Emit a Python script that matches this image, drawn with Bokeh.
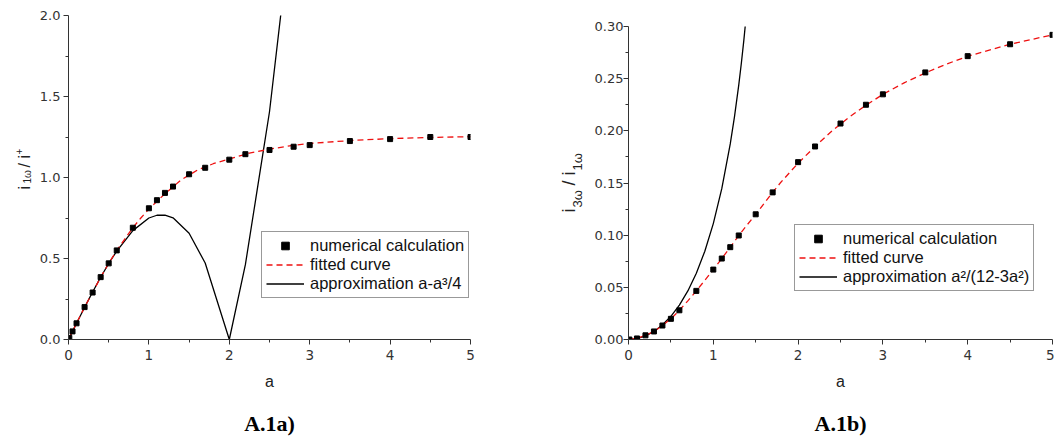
from bokeh.plotting import figure
from bokeh.layouts import row
from bokeh.models import (Range1d, FixedTicker, NumeralTickFormatter, Legend,
                          LegendItem, Label, Title)
from bokeh.embed import file_html
from bokeh.resources import INLINE

# ---------------- data: panel A.1a ----------------
a_num_1 = [0.01, 0.05, 0.1, 0.2, 0.3, 0.4, 0.5, 0.6, 0.8, 1.0, 1.1, 1.2, 1.3,
           1.5, 1.7, 2.0, 2.2, 2.5, 2.8, 3.0, 3.5, 4.0, 4.5, 5.0]
i1_num = [0.01, 0.05, 0.10, 0.20, 0.29, 0.385, 0.47, 0.55, 0.69, 0.81, 0.86,
          0.905, 0.944, 1.02, 1.06, 1.11, 1.144, 1.17, 1.19, 1.20, 1.225,
          1.237, 1.25, 1.25]
a_fit_1 = [0, 0.1, 0.2, 0.3, 0.4, 0.5, 0.6, 0.7, 0.8, 0.9, 1.0, 1.2, 1.4, 1.6,
           1.8, 2.0, 2.25, 2.5, 2.75, 3.0, 3.5, 4.0, 4.5, 5.0]
i1_fit = [0, 0.10, 0.20, 0.29, 0.385, 0.47, 0.55, 0.62, 0.69, 0.75, 0.805,
          0.90, 0.985, 1.045, 1.085, 1.115, 1.15, 1.175, 1.195, 1.21, 1.228,
          1.24, 1.247, 1.252]
a_apx_1 = [0, 0.05, 0.1, 0.2, 0.3, 0.4, 0.5, 0.6, 0.8, 1.0, 1.1, 1.2, 1.3, 1.5,
           1.7, 2.0, 2.2, 2.5, 2.8]
i1_apx = [0, 0.05, 0.10, 0.198, 0.293, 0.384, 0.469, 0.546, 0.672, 0.75, 0.767,
          0.768, 0.751, 0.656, 0.472, 0.0, 0.462, 1.406, 2.688]
y_ticks_1 = [0.0, 0.5, 1.0, 1.5, 2.0]

# ---------------- data: panel A.1b ----------------
a_num_2 = [0.01, 0.1, 0.2, 0.3, 0.4, 0.5, 0.6, 0.8, 1.0, 1.1, 1.2, 1.3, 1.5,
           1.7, 2.0, 2.2, 2.5, 2.8, 3.0, 3.5, 4.0, 4.5, 5.0]
i3_num = [0.0, 0.001, 0.004, 0.0077, 0.0134, 0.0198, 0.028, 0.0466, 0.067,
          0.0776, 0.0885, 0.0997, 0.120, 0.141, 0.170, 0.185, 0.207, 0.225,
          0.235, 0.256, 0.2716, 0.283, 0.292]
a_fit_2 = [0, 0.1, 0.2, 0.3, 0.4, 0.5, 0.6, 0.7, 0.8, 0.9, 1.0, 1.1, 1.2, 1.3,
           1.4, 1.5, 1.6, 1.7, 1.8, 2.0, 2.2, 2.4, 2.6, 2.8, 3.0, 3.25, 3.5,
           3.75, 4.0, 4.5, 5.0]
i3_fit = [0, 0.001, 0.004, 0.0077, 0.0134, 0.0198, 0.028, 0.037, 0.0466,
          0.0567, 0.067, 0.0776, 0.0885, 0.0997, 0.110, 0.120, 0.1305, 0.141,
          0.151, 0.169, 0.185, 0.200, 0.213, 0.2245, 0.235, 0.246, 0.2555,
          0.264, 0.2715, 0.283, 0.292]
a_apx_2 = [0, 0.1, 0.2, 0.3, 0.4, 0.5, 0.6, 0.7, 0.8, 0.9, 1.0, 1.1, 1.2, 1.25,
           1.3, 1.33, 1.36, 1.376]
i3_apx = [0, 0.00084, 0.00337, 0.00767, 0.01389, 0.02222, 0.03297, 0.04653,
          0.06349, 0.08464, 0.1111, 0.14456, 0.1875, 0.21368, 0.24387, 0.26428,
          0.2867, 0.300]
y_ticks_2 = [0.0, 0.05, 0.10, 0.15, 0.20, 0.25, 0.30]

x_ticks = [0, 1, 2, 3, 4, 5]
legend_labels_1 = ["numerical calculation", "fitted curve", "approximation a-a\u00b3/4"]
legend_labels_2 = ["numerical calculation", "fitted curve", "approximation a\u00b2/(12-3a\u00b2)"]
captions = ["A.1a)", "A.1b)"]
ylabel_1 = [("i", "main"), ("1\u03c9", "sub"), ("/", "main"), ("i", "main"), ("+", "sup")]
ylabel_2 = [("i", "main"), ("3\u03c9", "sub"), ("/", "main"), ("i", "main"), ("1\u03c9", "sub")]

SANS = "Liberation Sans"
TICKF = "DejaVu Sans"
SERIF = "Liberation Serif"
AX = "#333333"

TOP = 15          # frame top (page px)
FH = 324          # frame height
BOT = 100         # bottom border


def mids(t):
    return [(t[i] + t[i + 1]) / 2 for i in range(len(t) - 1)]


def make_fig(frame_w, bl, br, y_end, y_ticks, y_fmt, y_standoff, caption, cap_off):
    p = figure(frame_width=frame_w, frame_height=FH,
               min_border_left=bl, min_border_right=br,
               min_border_top=TOP, min_border_bottom=BOT,
               x_range=Range1d(0, 5), y_range=Range1d(0, y_end),
               output_backend="svg", toolbar_location=None)
    p.outline_line_color = None
    p.xgrid.visible = False
    p.ygrid.visible = False
    p.background_fill_color = "white"
    p.border_fill_color = "white"
    p.xaxis.ticker = FixedTicker(ticks=x_ticks, minor_ticks=mids(x_ticks))
    p.yaxis.ticker = FixedTicker(ticks=y_ticks, minor_ticks=mids(y_ticks))
    p.yaxis.formatter = NumeralTickFormatter(format=y_fmt)
    p.yaxis.bounds = (y_ticks[0], y_ticks[-1])
    for ax in (p.xaxis, p.yaxis):
        ax.axis_line_color = AX
        ax.axis_line_width = 1
        ax.major_tick_line_color = AX
        ax.minor_tick_line_color = AX
        ax.major_tick_out = 5
        ax.major_tick_in = 0
        ax.minor_tick_out = 3
        ax.minor_tick_in = 0
        ax.major_label_text_font = TICKF
        ax.major_label_text_color = AX
    p.yaxis.major_label_text_font_size = "13px"
    p.xaxis.major_label_text_font_size = "13.5px"
    p.yaxis.major_label_standoff = y_standoff
    p.xaxis.major_label_standoff = 5
    p.xaxis.axis_label = "a"
    p.xaxis.axis_label_text_font = SANS
    p.xaxis.axis_label_text_font_size = "16px"
    p.xaxis.axis_label_text_font_style = "normal"
    p.xaxis.axis_label_text_color = "#222222"
    p.xaxis.axis_label_standoff = 10
    p.add_layout(Title(text=caption, align="center", offset=cap_off,
                       text_font=SERIF, text_font_size="22px",
                       text_font_style="bold", text_color="black",
                       standoff=32), "below")
    return p


def add_series(p, a_num, y_num, a_fit, y_fit, a_apx, y_apx, labels, loc):
    r_apx = p.line(a_apx, y_apx, line_color="black", line_width=1.3)
    r_fit = p.line(a_fit, y_fit, line_color="#ee1111", line_width=1.3,
                   line_dash="6 4")
    r_num = p.scatter(a_num, y_num, marker="square", size=5, color="black")
    leg = Legend(items=[LegendItem(label=labels[0], renderers=[r_num]),
                        LegendItem(label=labels[1], renderers=[r_fit]),
                        LegendItem(label=labels[2], renderers=[r_apx])],
                 location=loc, margin=0, padding=4, spacing=0,
                 glyph_width=38, glyph_height=19, label_height=19,
                 label_standoff=6, label_text_font=SANS,
                 label_text_font_size="16.5px", label_text_color="#111111",
                 border_line_color="#333333", border_line_width=1,
                 background_fill_color="white", background_fill_alpha=1)
    p.add_layout(leg, "center")


def label_fig(width, pieces, starts, sizes, xs):
    # narrow strip carrying the rotated y-axis title (with sub/superscripts)
    q = figure(frame_width=width, frame_height=FH, min_border_left=0,
               min_border_right=0, min_border_top=TOP, min_border_bottom=BOT,
               x_axis_location=None, y_axis_location=None,
               x_range=Range1d(0, 1), y_range=Range1d(0, 1),
               output_backend="svg", toolbar_location=None)
    q.outline_line_color = None
    q.xgrid.visible = False
    q.ygrid.visible = False
    q.background_fill_color = "white"
    q.border_fill_color = "white"
    for (txt, kind), y in zip(pieces, starts):
        q.add_layout(Label(x=xs[kind], y=y, x_units="screen", y_units="screen",
                           text=txt, angle=1.5707963, text_font=SANS,
                           text_font_size=f"{sizes[kind]}px",
                           text_color="#222222", text_align="left",
                           text_baseline="alphabetic"))
    return q


# left strip: page x 0..34 ; y positions measured up from frame bottom (page 339)
lab1 = label_fig(34, ylabel_1, [150, 156, 172, 181, 185],
                 {"main": 16, "sub": 10, "sup": 10},
                 {"main": 23.5, "sub": 27, "sup": 18})

# left panel: frame at page x 68..470, y 15..339
p1 = make_fig(402, 34, 78, 2.0, y_ticks_1, "0.0", 3, captions[0], -8)
add_series(p1, a_num_1, i1_num, a_fit_1, i1_fit, a_apx_1, i1_apx,
           legend_labels_1, (193, 41))

# right strip: page x 548..588
lab2 = label_fig(40, ylabel_2, [127, 132, 154, 164, 169],
                 {"main": 18, "sub": 13, "sup": 13},
                 {"main": 20, "sub": 29, "sup": 14})

# right panel: 0.30 sits at page y 26, frame spans 15..339
y_end_2 = 0.30 * FH / (339 - 26)
p2 = make_fig(424, 40, 2, y_end_2, y_ticks_2, "0.00", 0, captions[1], -6)
add_series(p2, a_num_2, i3_num, a_fit_2, i3_fit, a_apx_2, i3_apx,
           legend_labels_2, (166, 48))

layout = row(lab1, p1, lab2, p2)
open("out.html", "w").write(file_html(layout, INLINE))
